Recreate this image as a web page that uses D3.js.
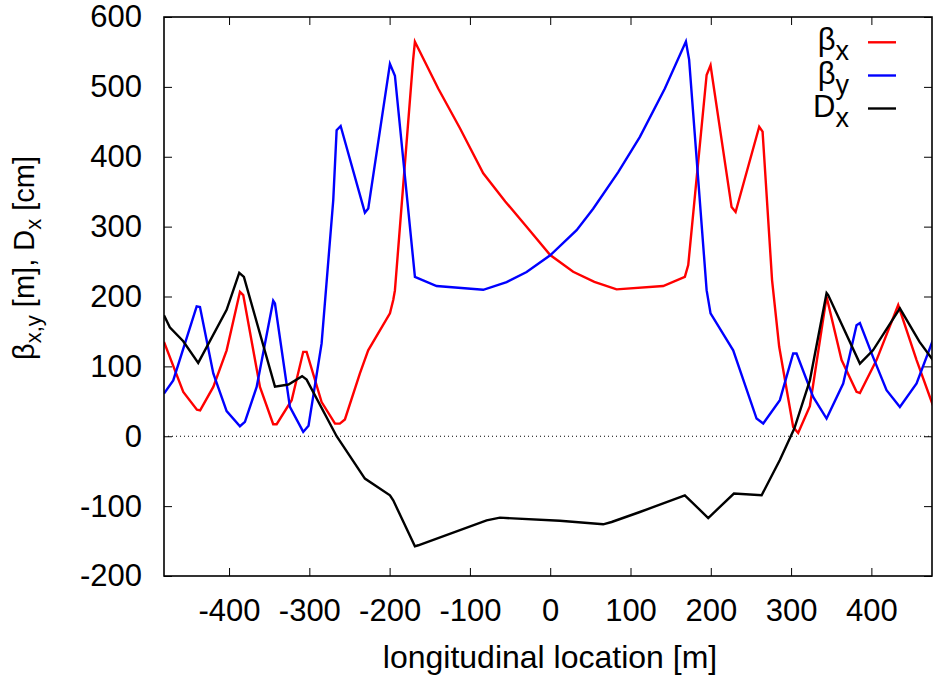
<!DOCTYPE html>
<html><head><meta charset="utf-8">
<script src="https://cdn.jsdelivr.net/npm/d3@7/dist/d3.min.js"></script>
<style>
body{margin:0;background:#fff}
text{font-family:"Liberation Sans",Arial,Helvetica,sans-serif;fill:#000}
</style>
</head><body>
<svg id="chart" width="933" height="679"></svg>
<script>
// ---- data (longitudinal location s [m], values) ----
const sBetaX = [-481,-457,-440,-436,-419.6,-403,-386.4,-382.3,-361.5,-345,-340.7,-322,-307.6,-303.4,-284.7,-268,-262,-255.7,-237,-226.7,-199.6,-195.5,-193.4,-170.8,-168.5,-139.5,-112.4,-83.4,-56,-29.4,0,28.6,55,82.7,140.7,167.7,171.9,194.8,199.7,225.9,230.9,260.3,264.5,276.3,285.2,302.6,308.8,323.4,344.2,362.9,381.5,385.7,406.4,433.4,456.3,476.6];
const betaX  = [135,63.5,38,37,70.6,123,206.7,202,70.6,17.2,17.2,51.6,120.8,120.8,49,18,18,24,90,123,175.8,195,208.7,538,564.5,497.6,440.8,376.4,336,299.9,259.3,235.4,221,210.2,215,228,245,517,531,328,321,443,436,223.5,128,13.3,4.7,43,199.6,109,63.5,62,109,187.7,109,44.4];

const sBetaY = [-481,-469.5,-440.3,-436.2,-419.6,-403,-386.4,-380.2,-365.6,-345,-342.8,-324.2,-307.6,-301,-284.7,-270.2,-266,-261,-230.8,-226.6,-199.6,-193.4,-168.5,-141.5,-83.4,-54.3,-29.4,0,32.9,53.5,84.7,111.7,142.8,169,173,194.8,199.7,227.9,257,265.3,286,302.6,306.8,327.5,344.2,364.9,381.5,385.7,402,418.9,435.5,456.3,476.6];
const betaY  = [61,80,186,185,90,36,14.3,20.5,70.6,194,190,42,6.2,15,132.8,338,438,444,320,326,533,516,228,215,209.6,220.6,235,259,295,325.6,378,428.4,497.6,565,539,209,175.8,123,25.3,18.2,51.6,118.5,118.5,56.3,25.3,75.5,159,162,113.6,66,42,75.5,137.5];

const sDispX = [-481,-473.8,-457,-438.4,-403,-387.3,-381.5,-342.8,-326,-309,-303.4,-266,-230.8,-199.6,-195.5,-168.5,-164.3,-79.2,-62.6,12,66,76.5,111.7,167.7,196.8,228.8,263.3,286,304,323.4,344.2,346.2,385.7,402,435.5,460,476.6];
const dispX  = [173,156,136,105,181,234,228,71,74,86,81,0,-60.6,-84.5,-91.7,-157.6,-156,-120.3,-116.5,-121,-126,-122.7,-108.4,-84.5,-117,-82,-84.5,-34,11,80,205,202,104,123,183,135,109];

const xTicks = [-400,-300,-200,-100,0,100,200,300,400];
const yTicks = [-200,-100,0,100,200,300,400,500,600];
const seriesNames = ["βx","βy","Dx"];
const seriesColors = ["#ff0000","#0000ff","#000000"];

// ---- layout ----
const L = 164, R = 932, T = 17, B = 576;
const svg = d3.select("#chart");
const x = d3.scaleLinear().domain([-481, 475.5]).range([L, R]);
const y = d3.scaleLinear().domain([-200, 600]).range([B, T]);
const fmt = d => String(d);

svg.append("defs").append("clipPath").attr("id","clip")
  .append("rect").attr("x",L).attr("y",T).attr("width",R-L).attr("height",B-T);

// zero line
svg.append("line").attr("x1",L).attr("x2",R).attr("y1",y(0)).attr("y2",y(0))
  .attr("stroke","#000").attr("stroke-width",1).attr("stroke-dasharray","1,3");

// axes with inward ticks
function styleAxis(g){
  g.select(".domain").remove();
  g.selectAll(".tick line").attr("stroke","#000").attr("stroke-width",1);
  g.selectAll(".tick text").style("font-size","31px").attr("fill","#000").attr("font-family",null);
}
svg.append("g").attr("transform",`translate(0,${B})`)
  .call(d3.axisBottom(x).tickValues(xTicks).tickSize(-8).tickPadding(23).tickFormat(fmt))
  .call(styleAxis);
svg.append("g").attr("transform",`translate(0,${T})`)
  .call(d3.axisTop(x).tickValues(xTicks).tickSize(-8).tickFormat(""))
  .call(styleAxis);
svg.append("g").attr("transform",`translate(${L},0)`)
  .call(d3.axisLeft(y).tickValues(yTicks).tickSize(-8).tickPadding(22).tickFormat(fmt))
  .call(styleAxis);
svg.append("g").attr("transform",`translate(${R},0)`)
  .call(d3.axisRight(y).tickValues(yTicks).tickSize(-8).tickFormat(""))
  .call(styleAxis);

// lines
const line = d3.line().x(d => x(d[0])).y(d => y(d[1]));
const data = [
  d3.zip(sBetaX, betaX),
  d3.zip(sBetaY, betaY),
  d3.zip(sDispX, dispX)
];
const plot = svg.append("g").attr("clip-path","url(#clip)");
data.forEach((d,i) => {
  plot.append("path").datum(d).attr("d",line)
    .attr("fill","none").attr("stroke",seriesColors[i]).attr("stroke-width",2.4)
    .attr("stroke-linejoin","miter");
});

// frame
svg.append("rect").attr("x",L).attr("y",T).attr("width",R-L).attr("height",B-T)
  .attr("fill","none").attr("stroke","#000").attr("stroke-width",1.6);

// legend
const legRowY = [42.3, 75.5, 108.5];
seriesNames.forEach((name,i) => {
  const t = svg.append("text").attr("x",849).attr("y",legRowY[i]+8)
    .attr("text-anchor","end").style("font-size","31px");
  t.append("tspan").text(name[0]);
  t.append("tspan").attr("dy",10).style("font-size","27px").text(name.slice(1));
  svg.append("line").attr("x1",868).attr("x2",896).attr("y1",legRowY[i]).attr("y2",legRowY[i])
    .attr("stroke",seriesColors[i]).attr("stroke-width",2.4);
});

// axis titles
svg.append("text").attr("x",550).attr("y",668).attr("text-anchor","middle")
  .style("font-size","32px").text("longitudinal location [m]");

const yt = svg.append("text").attr("transform","translate(34,258) rotate(-90)")
  .attr("text-anchor","middle").style("font-size","29px");
yt.append("tspan").text("β");
yt.append("tspan").attr("dy",7).style("font-size","22px").text("x,y");
yt.append("tspan").attr("dy",-7).text(" [m], D");
yt.append("tspan").attr("dy",7).style("font-size","22px").text("x");
yt.append("tspan").attr("dy",-7).text(" [cm]");
</script>
</body></html>
